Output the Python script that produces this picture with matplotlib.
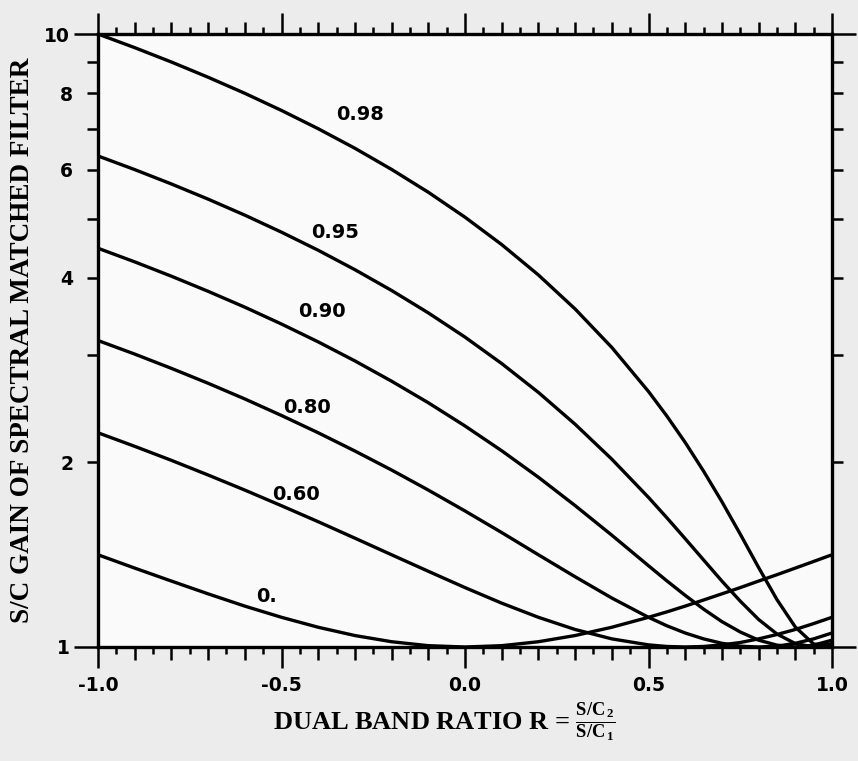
import numpy as np
import matplotlib
matplotlib.use("Agg")
import matplotlib.pyplot as plt

# dual band ratio R and S/C gain, one list per clutter correlation
ratio = [-1.0, -0.9, -0.8, -0.7, -0.6, -0.5, -0.4, -0.3, -0.2, -0.1, 0.0,
         0.1, 0.2, 0.3, 0.4, 0.5, 0.55, 0.6, 0.65, 0.7, 0.75, 0.8, 0.85, 0.9, 0.95, 1.0]

gain_000 = [1.414, 1.345, 1.281, 1.221, 1.166, 1.118, 1.077, 1.044, 1.020, 1.005, 1.000,
            1.005, 1.020, 1.044, 1.077, 1.118, 1.141, 1.166, 1.193, 1.221, 1.250, 1.281,
            1.312, 1.345, 1.379, 1.414]
gain_060 = [2.236, 2.125, 2.016, 1.908, 1.803, 1.700, 1.601, 1.505, 1.414, 1.329, 1.250,
            1.179, 1.118, 1.068, 1.031, 1.008, 1.002, 1.000, 1.002, 1.008, 1.017, 1.031,
            1.048, 1.068, 1.092, 1.118]
gain_080 = [3.162, 3.005, 2.848, 2.693, 2.539, 2.386, 2.236, 2.088, 1.944, 1.803, 1.667,
            1.537, 1.414, 1.302, 1.202, 1.118, 1.083, 1.054, 1.031, 1.014, 1.003, 1.000,
            1.003, 1.014, 1.031, 1.054]
gain_090 = [4.472, 4.249, 4.026, 3.804, 3.584, 3.364, 3.146, 2.929, 2.714, 2.503, 2.294,
            2.090, 1.892, 1.701, 1.522, 1.357, 1.282, 1.214, 1.153, 1.100, 1.058, 1.026,
            1.007, 1.000, 1.007, 1.026]
gain_095 = [6.325, 6.009, 5.693, 5.378, 5.064, 4.750, 4.438, 4.126, 3.816, 3.508, 3.203,
            2.900, 2.602, 2.309, 2.025, 1.754, 1.625, 1.502, 1.387, 1.281, 1.188, 1.109,
            1.050, 1.013, 1.000, 1.013]
gain_098 = [10.0, 9.500, 9.001, 8.501, 8.003, 7.504, 7.006, 6.510, 6.013, 5.519, 5.025,
            4.534, 4.045, 3.560, 3.081, 2.611, 2.381, 2.156, 1.936, 1.726, 1.528, 1.348,
            1.195, 1.078, 1.011, 1.005]

curve_labels = ["0.", "0.60", "0.80", "0.90", "0.95", "0.98"]
# where each curve label sits (R, gain)
label_r = [-0.54, -0.46, -0.43, -0.39, -0.355, -0.285]
label_g = [1.21, 1.77, 2.46, 3.52, 4.75, 7.38]

x_major = [-1.0, -0.5, 0.0, 0.5, 1.0]
x_major_labels = ["-1.0", "-0.5", "0.0", "0.5", "1.0"]
y_major = [1, 10]
y_minor = [2, 3, 4, 5, 6, 7, 8, 9]
y_minor_labels = ["2", "", "4", "", "6", "", "8", ""]

plt.rcParams["mathtext.fontset"] = "custom"
plt.rcParams["mathtext.rm"] = "Liberation Serif:bold"
plt.rcParams["mathtext.it"] = "Liberation Serif:bold"
plt.rcParams["mathtext.bf"] = "Liberation Serif:bold"

fig = plt.figure(figsize=(8.58, 7.61), dpi=100, facecolor="#ececec")
ax = fig.add_axes([98 / 858, 1 - 647 / 761, 734 / 858, 613 / 761])
ax.set_facecolor("#fafafa")

for g in [gain_000, gain_060, gain_080, gain_090, gain_095, gain_098]:
    ax.plot(ratio, g, color="black", lw=2.4, solid_capstyle="butt",
            solid_joinstyle="round", clip_on=False)

for lab, r, g in zip(curve_labels, label_r, label_g):
    ax.text(r, g, lab, ha="center", va="center", fontsize=14, fontweight="bold")

ax.set_yscale("log")
ax.set_xlim(-1.0, 1.0)
ax.set_ylim(1, 10)

ax.set_xticks(x_major, x_major_labels)
ax.set_xticks(np.round(np.arange(-0.9, 1.0, 0.1), 2), minor=True)
ax.set_yticks(y_major, ["1", "10"])
ax.set_yticks(y_minor, y_minor_labels, minor=True)

for s in ax.spines.values():
    s.set_linewidth(2.4)

ax.tick_params(axis="x", which="both", direction="out", top=True, bottom=True, width=1.8)
ax.tick_params(axis="x", which="major", length=15, pad=6, labelsize=13.5)
ax.tick_params(axis="x", which="minor", length=9)
ax.tick_params(axis="y", which="both", direction="out", left=True, right=True, width=1.8)
ax.tick_params(axis="y", which="major", length=17, pad=3, labelsize=13.5)
ax.tick_params(axis="y", which="minor", length=8, pad=10, labelsize=13.5)
for lab in ax.get_xticklabels() + ax.get_yticklabels(which="both"):
    lab.set_fontweight("bold")

# short ticks at the odd 0.05 steps, top and bottom
odd_steps = np.round(np.arange(-0.95, 1.0, 0.1), 2)
for side in ["bottom", "top"]:
    sec = ax.secondary_xaxis(side)
    sec.set_xticks(odd_steps)
    sec.tick_params(direction="out", length=5, width=1.8,
                    labelbottom=False, labeltop=False)
    for s in sec.spines.values():
        s.set_visible(False)

fig.text(23 / 858, 1 - 340 / 761, "S/C GAIN OF SPECTRAL MATCHED FILTER",
         rotation=90, ha="center", va="center", fontsize=19.5,
         family="Liberation Serif", fontweight="bold")
fig.text(444 / 858, 1 - 722 / 761,
         r"DUAL BAND RATIO R = $\mathrm{\frac{S/C_{\,2}}{S/C_{\,1}}}$",
         ha="center", va="center", fontsize=19,
         family="Liberation Serif", fontweight="bold")

fig.savefig("out.png", dpi=100, facecolor=fig.get_facecolor())
